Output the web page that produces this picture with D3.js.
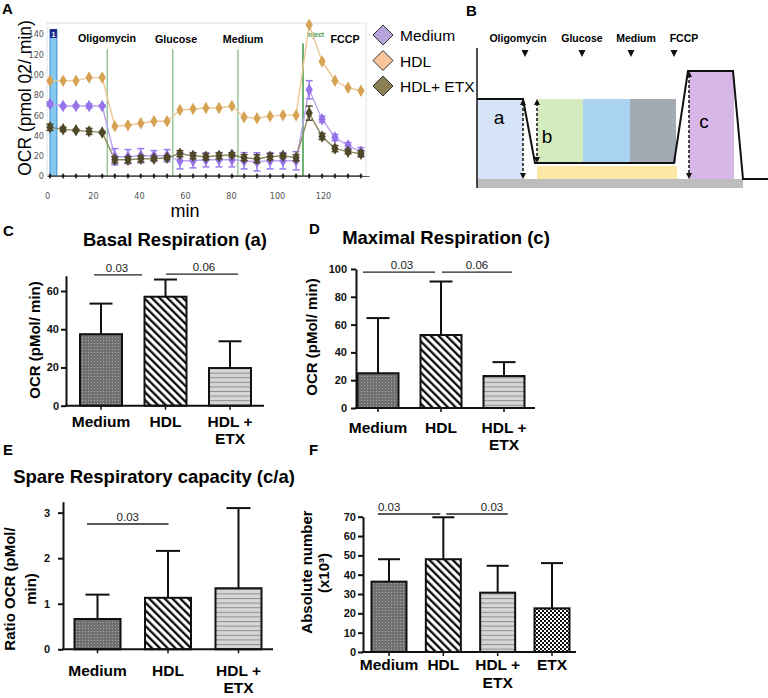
<!DOCTYPE html>
<html><head><meta charset="utf-8">
<script src="https://cdn.jsdelivr.net/npm/d3@7"></script>
<style>body{margin:0;background:#fff} svg{display:block;font-family:"Liberation Sans",Arial,sans-serif}</style>
</head><body><svg id="c" width="768" height="698"></svg>
<script>
// ---------------- DATA ----------------
// Panel A (Seahorse trace)
const timeMin = [1.3,7,12.6,18.3,24, 29.5,35.2,40.8,46.5,52.2, 57.8,63.5,69.1,74.8,80.4, 85.7,91.3,97,102.6,108.3, 114,119.6,125.2,130.9,136.5];
const ocrMedium    = [71,69,69,69,69, 19,19,20,20,20, 15,15,16,16,16, 15,14,15,15,15, 85,56,38,30,24];
const ocrMediumErr = [2,1,1,2,1, 8,7,7,5,6, 8,7,7,7,7, 8,9,8,8,9, 9,3,3,3,4];
const ocrHDL       = [94,94,94,97,97, 49,50,52,54,54, 65,66,67,67,69, 58,57,59,60,60, 149,113,94,87,84];
const ocrHDLETX    = [48,46,45,44,43, 16,16,17,17,18, 22,20,19,20,21, 18,17,19,20,18, 62,39,27,24,22];
const ocrHDLETXErr = [3,2,1,3,1, 3,3,3,2,2, 3,3,3,3,2, 3,4,3,2,3, 7,3,3,2,3];
const ocrBackground = timeMin.map(() => 0);
const injections = [{name:"Oligomycin", t:26.2, top:125}, {name:"Glucose", t:54.7, top:125}, {name:"Medium", t:83, top:125}, {name:"FCCP", t:111.3, top:131}];
const legendNames = ["Medium","HDL","HDL+ ETX"];
const xTicksA = [0,20,40,60,80,100,120];
const yTicksA = [0,20,40,60,80,100,120,140];

// Panels C-F (bar charts)
const cats3 = ["Medium","HDL","HDL + ETX"];
const cats4 = ["Medium","HDL","HDL + ETX","ETX"];
const basalVals = [37.4, 57, 19.7];
const basalErr  = [16, 9, 14];
const maximalVals = [25, 52.5, 23];
const maximalErr  = [39.7, 38.5, 10];
const spareVals = [0.665, 1.13, 1.34];
const spareErr  = [0.535, 1.03, 1.76];
const absVals = [36.4, 48, 30.7, 22.6];
const absErr  = [11.6, 21.7, 13.9, 23.4];
const basalP = ["0.03","0.06"];
const maximalP = ["0.03","0.06"];
const spareP = ["0.03"];
const absP = ["0.03","0.03"];
const ticksC = [0,20,40,60];
const ticksD = [0,20,40,60,80,100];
const ticksE = [0,1,2,3];
const ticksF = [0,10,20,30,40,50,60,70];

// ---------------- SETUP ----------------
const svg = d3.select("#c");
svg.append("rect").attr("width",768).attr("height",698).attr("fill","#fff");
const defs = svg.append("defs");
function pat(id,w,h,transform){const p=defs.append("pattern").attr("id",id).attr("patternUnits","userSpaceOnUse").attr("width",w).attr("height",h); if(transform)p.attr("patternTransform",transform); return p;}
let p = pat("pDots",3,3);
p.append("rect").attr("width",3).attr("height",3).attr("fill","#707070");
p.append("rect").attr("x",1).attr("y",1).attr("width",1).attr("height",1).attr("fill","#a9a9a9");
p = pat("pDiag",5.5,5.5,"rotate(-45)");
p.append("rect").attr("width",5.5).attr("height",5.5).attr("fill","#fff");
p.append("line").attr("x1",1.2).attr("x2",1.2).attr("y1",0).attr("y2",5.5).attr("stroke","#000").attr("stroke-width",2.2);
p = pat("pHor",4,4.6);
p.append("rect").attr("width",4).attr("height",4.6).attr("fill","#d6d6d6");
p.append("line").attr("x1",0).attr("x2",4).attr("y1",0.5).attr("y2",0.5).attr("stroke","#8e8e8e").attr("stroke-width",1);
p = pat("pChk",4,4);
p.append("rect").attr("width",4).attr("height",4).attr("fill","#fff");
p.append("rect").attr("width",2).attr("height",2).attr("fill","#111");
p.append("rect").attr("x",2).attr("y",2).attr("width",2).attr("height",2).attr("fill","#111");
const fills = ["url(#pDots)","url(#pDiag)","url(#pHor)","url(#pChk)"];

function panelLetter(t,x,y){svg.append("text").attr("x",x).attr("y",y).attr("font-size",15).attr("font-weight","bold").text(t);}
panelLetter("A",2,14); panelLetter("B",466,16); panelLetter("C",3,236); panelLetter("D",309,234); panelLetter("E",3,455); panelLetter("F",309,455);

// ---------------- PANEL A ----------------
const xA = d3.scaleLinear().domain([0,140]).range([47,369]);
const yA = d3.scaleLinear().domain([0,140]).range([176,34]);
const gA = svg.append("g");
gA.append("rect").attr("x",47).attr("y",23).attr("width",319).attr("height",153).attr("fill","#fff").attr("stroke","#e2e2e2");
// blue injection-port bar
gA.append("rect").attr("x",xA(1.3)).attr("y",30).attr("width",xA(4.3)-xA(1.3)).attr("height",yA(0)-30).attr("fill","#86c8ee").attr("stroke","#3d8fd1").attr("stroke-width",1);
gA.append("rect").attr("x",xA(1.3)).attr("y",29).attr("width",xA(4.3)-xA(1.3)).attr("height",9).attr("fill","#1b2a8a");
gA.append("text").attr("x",(xA(1.3)+xA(4.3))/2).attr("y",36.5).attr("text-anchor","middle").attr("font-size",7).attr("font-weight","bold").attr("fill","#fff").text("1");
// axes
const axXA = gA.append("g").attr("transform","translate(0,176)").call(d3.axisBottom(xA).tickValues(xTicksA).tickSize(0).tickPadding(17));
axXA.select(".domain").attr("stroke","#555");
axXA.selectAll("text").attr("font-size",9).attr("fill","#555").attr("font-family","DejaVu Sans Condensed, Liberation Sans Narrow, sans-serif");
const axYA = gA.append("g").attr("transform","translate(47,0)").call(d3.axisLeft(yA).tickValues(yTicksA).tickSize(0).tickPadding(3));
axYA.select(".domain").remove();
axYA.selectAll("text").attr("font-size",9).attr("fill","#555").attr("font-family","DejaVu Sans Condensed, Liberation Sans Narrow, sans-serif");
// injection lines
injections.forEach((d,i)=>{
  gA.append("line").attr("x1",xA(d.t)).attr("x2",xA(d.t)).attr("y1",yA(d.top)).attr("y2",yA(0))
    .attr("stroke", i===3?"#3c9a46":"#98c79a").attr("stroke-width",1.5);
});
gA.append("text").attr("x",xA(111.3)+4).attr("y",37).attr("font-size",6.5).attr("font-weight","bold").attr("fill","#3f9a44").text("Inject");
const labA = [{t:"Oligomycin",x:107},{t:"Glucose",x:176},{t:"Medium",x:243},{t:"FCCP",x:345}];
labA.forEach(d=>gA.append("text").attr("x",d.x).attr("y",d.t==="Oligomycin"?42:43).attr("text-anchor","middle").attr("font-size",10.7).attr("font-weight","bold").text(d.t));
// series
const lineA = vals => d3.line().x((d,i)=>xA(timeMin[i])).y(d=>yA(d))(vals);
const diamond = d3.symbol().type(d3.symbolDiamond);
function series(vals, errs, lineCol, markCol, errCol, size){
  const g = gA.append("g");
  g.append("path").attr("d",lineA(vals)).attr("fill","none").attr("stroke",lineCol).attr("stroke-width",1.4);
  if(errs){
    vals.forEach((v,i)=>{
      const x=xA(timeMin[i]), y1=yA(v-errs[i]), y2=yA(v+errs[i]);
      g.append("line").attr("x1",x).attr("x2",x).attr("y1",y1).attr("y2",y2).attr("stroke",errCol).attr("stroke-width",1.5);
      [y1,y2].forEach(yy=>g.append("line").attr("x1",x-3.5).attr("x2",x+3.5).attr("y1",yy).attr("y2",yy).attr("stroke",errCol).attr("stroke-width",1.5));
    });
  }
  vals.forEach((v,i)=>g.append("path").attr("d",diamond.size(size)()).attr("transform",`translate(${xA(timeMin[i])},${yA(v)})`).attr("fill",markCol));
}
series(ocrBackground,null,"#555","#222",null,10);
series(ocrHDL,null,"#ecc793","#d6a253",null,45);
series(ocrMedium,ocrMediumErr,"#bba5f2","#9673ea","#9a7cf0",45);
series(ocrHDLETX,ocrHDLETXErr,"#8e8a64","#4e4828","#4e4828",45);
// axis titles
gA.append("text").attr("x",185).attr("y",217).attr("text-anchor","middle").attr("font-size",18).text("min");
gA.append("text").attr("transform","translate(31,98) rotate(-90)").attr("text-anchor","middle").attr("font-size",17.5).text("OCR (pmol 02/ min)");
// legend
const legCols = ["#b6a4da","#f9c59b","#8a8053"];
legendNames.forEach((n,i)=>{
  const cy = 35 + i*25.5;
  svg.append("path").attr("d",`M383,${cy-10}L393,${cy}L383,${cy+10}L373,${cy}Z`).attr("fill",legCols[i]).attr("stroke","#333").attr("stroke-width",1);
  svg.append("text").attr("x",400).attr("y",cy+6).attr("font-size",15.5).text(n);
});

// ---------------- PANEL B (schematic) ----------------
const xB = d3.scaleLinear().domain([0,291]).range([477,768]);
const yB = d3.scaleLinear().domain([0,131]).range([179,48]);
const gB = svg.append("g");
const bRects = [
  {x0:0,x1:46,y0:0,y1:80,c:"#d5e4f6"},
  {x0:60,x1:106,y0:16,y1:80,c:"#d5ecc1"},
  {x0:106,x1:153,y0:16,y1:80,c:"#a9d3f0"},
  {x0:153,x1:199,y0:16,y1:80,c:"#a4aab2"},
  {x0:60,x1:200,y0:0,y1:13,c:"#fde7a6"},
  {x0:212,x1:257,y0:0,y1:108,c:"#d6b7e7"},
  {x0:0,x1:266,y0:-9,y1:0,c:"#bdbdbd"}
];
bRects.forEach(r=>gB.append("rect").attr("x",xB(r.x0)).attr("y",yB(r.y1)).attr("width",xB(r.x1)-xB(r.x0)).attr("height",yB(r.y0)-yB(r.y1)).attr("fill",r.c));
const trace = [[0,80],[46,80],[58,16],[197,16],[211,108],[256,108],[266,0],[291,0]];
gB.append("path").attr("d",d3.line().x(d=>xB(d[0])).y(d=>yB(d[1]))(trace)).attr("fill","none").attr("stroke","#111").attr("stroke-width",2);
gB.append("line").attr("x1",xB(0)).attr("x2",xB(0)).attr("y1",yB(131)).attr("y2",yB(-9)).attr("stroke","#111").attr("stroke-width",1.5);
const arrows = [{x:46,y0:0,y1:80},{x:60,y0:16,y1:80},{x:212,y0:0,y1:108}];
arrows.forEach(a=>{
  const x=xB(a.x), ya=yB(a.y1), yb=yB(a.y0);
  gB.append("line").attr("x1",x).attr("x2",x).attr("y1",ya+4).attr("y2",yb-4).attr("stroke","#111").attr("stroke-width",1.5).attr("stroke-dasharray","3,2");
  gB.append("path").attr("d",`M${x},${ya}L${x-3},${ya+6}L${x+3},${ya+6}Z`).attr("fill","#111");
  gB.append("path").attr("d",`M${x},${yb}L${x-3},${yb-6}L${x+3},${yb-6}Z`).attr("fill","#111");
});
[["a",499,124],["b",547,143],["c",704,128]].forEach(d=>gB.append("text").attr("x",d[1]).attr("y",d[2]).attr("text-anchor","middle").attr("font-size",19).text(d[0]));
const labB = [{t:"Oligomycin",x:518,tx:525},{t:"Glucose",x:582,tx:582},{t:"Medium",x:636,tx:631},{t:"FCCP",x:684,tx:674}];
labB.forEach(d=>{
  gB.append("text").attr("x",d.x).attr("y",42).attr("text-anchor","middle").attr("font-size",10.5).attr("font-weight","bold").text(d.t);
  gB.append("path").attr("d",`M${d.tx-3.5},50L${d.tx+3.5},50L${d.tx},57Z`).attr("fill","#111");
});

// ---------------- BAR PANELS ----------------
function barPanel(o){
  const g = svg.append("g");
  const x = d3.scalePoint().domain(o.cats).range(o.xr);
  const y = d3.scaleLinear().domain(o.yd).range(o.yr);
  // bars
  o.cats.forEach((c,i)=>{
    const cx = x(c), v=o.vals[i], e=o.errs[i];
    g.append("line").attr("x1",cx).attr("x2",cx).attr("y1",y(v)).attr("y2",y(v+e)).attr("stroke","#111").attr("stroke-width",2);
    g.append("line").attr("x1",cx-o.cap/2).attr("x2",cx+o.cap/2).attr("y1",y(v+e)).attr("y2",y(v+e)).attr("stroke","#111").attr("stroke-width",2);
    g.append("rect").attr("x",cx-o.bw/2).attr("y",y(v)).attr("width",o.bw).attr("height",y(0)-y(v)).attr("fill",fills[i]).attr("stroke","#111").attr("stroke-width",2);
  });
  // y axis
  const ay = g.append("g").attr("transform",`translate(${o.ax},0)`).call(d3.axisLeft(y).tickValues(o.ticks).tickFormat(d3.format("d")).tickSize(5).tickPadding(o.pad||2).tickSizeOuter(0));
  ay.select(".domain").attr("stroke","#111").attr("stroke-width",2);
  ay.selectAll(".tick line").attr("stroke","#111").attr("stroke-width",2);
  ay.selectAll("text").attr("font-size",11).attr("font-weight","bold").attr("fill","#111").attr("font-family","Liberation Sans, Arial, sans-serif");
  // x axis
  g.append("line").attr("x1",o.ax-1).attr("x2",o.axEnd).attr("y1",y(0)).attr("y2",y(0)).attr("stroke","#111").attr("stroke-width",2);
  o.cats.forEach(c=>g.append("line").attr("x1",x(c)).attr("x2",x(c)).attr("y1",y(0)).attr("y2",y(0)+4).attr("stroke","#111").attr("stroke-width",1.5));
  o.cats.forEach(c=>{
    const t = g.append("text").attr("x",x(c)).attr("y",o.lab).attr("text-anchor","middle").attr("font-size",15.5).attr("font-weight","bold");
    if(c==="HDL + ETX"){ t.append("tspan").attr("x",x(c)).text("HDL +"); t.append("tspan").attr("x",x(c)).attr("dy",o.lh).text("ETX"); }
    else t.text(c);
  });
  // significance
  o.sig.forEach((s,i)=>{
    const x1=x(o.cats[s.a])+s.da, x2=x(o.cats[s.b])+s.db, yy=y(s.v);
    g.append("line").attr("x1",x1).attr("x2",x2).attr("y1",yy).attr("y2",yy).attr("stroke","#222").attr("stroke-width",1.3);
    g.append("text").attr("x",(x1+x2)/2+(s.dt||0)).attr("y",yy-3).attr("text-anchor","middle").attr("font-size",11.5).attr("fill","#222").text(o.p[i]);
  });
  // title
  if(o.title) g.append("text").attr("x",o.title.x).attr("y",o.title.y).attr("text-anchor","middle").attr("font-size",18.5).attr("font-weight","bold").text(o.title.t);
  // y label
  o.ylab.forEach(l=>g.append("text").attr("transform",`translate(${l.x},${l.y}) rotate(-90)`).attr("text-anchor","middle").attr("font-size",15).attr("font-weight","bold").text(l.t));
}

barPanel({cats:cats3, vals:basalVals, errs:basalErr, xr:[101,230], bw:42, cap:23, yd:[0,68], yr:[405.7,275.7], ticks:ticksC, ax:66, axEnd:264, lab:427, lh:17,
  p:basalP, sig:[{a:0,b:1,da:-7,db:-23.5,v:68.4,dt:-1},{a:1,b:2,da:0.5,db:8,v:68.8,dt:2}],
  title:{t:"Basal Respiration (a)",x:175,y:246}, ylab:[{t:"OCR (pMol/ min)",x:40,y:340}]});
barPanel({cats:cats3, vals:maximalVals, errs:maximalErr, xr:[378,504], bw:41, cap:23, yd:[0,100], yr:[408,269], ticks:ticksD, ax:356, axEnd:535, lab:433, lh:17, pad:4,
  p:maximalP, sig:[{a:0,b:1,da:-15,db:-6,v:97.8,dt:3},{a:1,b:2,da:1,db:8,v:97.8}],
  title:{t:"Maximal Respiration (c)",x:446,y:244}, ylab:[{t:"OCR (pMol/ min)",x:317,y:337}]});
barPanel({cats:cats3, vals:spareVals, errs:spareErr, xr:[97.5,238.5], bw:46, cap:24, yd:[0,3.24], yr:[649.3,501.7], ticks:ticksE, ax:63, axEnd:273, lab:676, lh:17, pad:8,
  p:spareP, sig:[{a:0,b:1,da:-10.5,db:0.5,v:2.75}],
  title:{t:"Spare Respiratory capacity (c/a)",x:154,y:483}, ylab:[{t:"Ratio OCR (pMol/",x:15,y:589},{t:"min)",x:36,y:589}]});
barPanel({cats:cats4, vals:absVals, errs:absErr, xr:[389,552], bw:35, cap:22, yd:[0,70], yr:[652,516.7], ticks:ticksF, ax:363, axEnd:576, lab:670, lh:18,
  p:absP, sig:[{a:0,b:1,da:-11,db:-3,v:71.4,dt:-20},{a:1,b:2,da:3,db:10,v:71.4,dt:15}],
  title:null, ylab:[{t:"Absolute number",x:312,y:572},{t:"(x10³)",x:329,y:573}]});
</script>
</body></html>
